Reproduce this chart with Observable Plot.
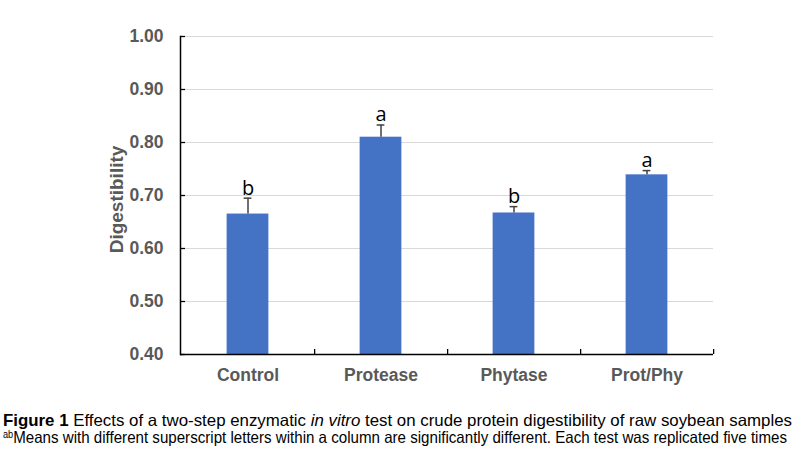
<!DOCTYPE html>
<html>
<head>
<meta charset="utf-8">
<script src="https://cdn.jsdelivr.net/npm/d3@7"></script>
<script src="https://cdn.jsdelivr.net/npm/@observablehq/plot@0.6"></script>
<style>
  html, body { margin: 0; padding: 0; background: #fff; overflow: hidden; }
  #chart svg { display: block; }
  #caption { font-family: "Liberation Sans Narrow", "Arial Narrow", "Liberation Sans", Arial, sans-serif; font-size: 16.5px; line-height: 17px; color: #000; padding: 12px 0 0 3px; white-space: nowrap; width: 2000px; }
  #caption .line { display: inline-block; width: max-content; transform-origin: 0 50%; }
  #caption sup { font-size: 10px; vertical-align: 5px; line-height: 0; }
</style>
</head>
<body>
<div id="chart"></div>
<div id="caption"><span class="line" data-w="789"><b>Figure 1</b> Effects of a two-step enzymatic <i>in vitro</i> test on crude protein digestibility of raw soybean samples</span><br><span class="line" data-w="784"><sup>ab</sup>Means with different superscript letters within a column are significantly different. Each test was replicated five times</span></div>
<script>
const categories = ["Control", "Protease", "Phytase", "Prot/Phy"];
const means = [0.665, 0.810, 0.667, 0.739];
const errors = [0.030, 0.023, 0.012, 0.008];
const letters = ["b", "a", "b", "a"];
const yTicks = [0.40, 0.50, 0.60, 0.70, 0.80, 0.90, 1.00];
const yMin = 0.40, yMax = 1.00;

const data = categories.map((c, i) => ({cat: c, mean: means[i], top: means[i] + errors[i], letter: letters[i]}));

const W = 796, H = 400;
const mL = 180, mR = 83, mT = 36, mB = 46;
const step = (W - mL - mR) / categories.length;
const barW = 42;
const capW = 8;
const gray = "#595959";
const font = "Liberation Sans, Arial, sans-serif";

const plot = Plot.plot({
  width: W, height: H,
  marginLeft: mL, marginRight: mR, marginTop: mT, marginBottom: mB,
  style: {fontFamily: font, background: "#fff"},
  x: {domain: categories, padding: 0},
  y: {domain: [yMin, yMax], ticks: yTicks},
  marks: [
    Plot.gridY(yTicks.filter(t => t > yMin), {stroke: "#d9d9d9", strokeOpacity: 1, strokeWidth: 1}),
    Plot.barY(data, {x: "cat", y1: yMin, y2: "mean", fill: "#4472c4", insetLeft: (step - barW) / 2, insetRight: (step - barW) / 2}),
    Plot.ruleX(data, {x: "cat", y1: "mean", y2: "top", stroke: "#404040", strokeWidth: 1.5}),
    Plot.tickY(data, {x: "cat", y: "top", stroke: "#404040", strokeWidth: 1.5, insetLeft: (step - capW) / 2, insetRight: (step - capW) / 2}),
    Plot.text(data, {x: "cat", y: "top", text: "letter", fontSize: 20, fill: "#000", lineAnchor: "middle", dy: -10, fontFamily: "Open Sans, Liberation Sans, sans-serif"}),
    Plot.axisY(yTicks, {anchor: "left", tickSize: 0, tickPadding: 17, fontSize: 17.5, fontWeight: "bold", fill: gray, tickFormat: d => d.toFixed(2), label: null}),
    Plot.axisY(yTicks, {anchor: "left", tickSize: 5, dx: 5, text: null, stroke: "#000", strokeWidth: 1.3, label: null}),
    Plot.axisX({anchor: "bottom", tickSize: 0, tickPadding: 14.5, fontSize: 17.5, fontWeight: "bold", fill: gray, label: null}),
    Plot.axisX({anchor: "bottom", tickSize: 5, dy: -5, dx: step / 2, text: null, stroke: "#000", strokeWidth: 1.3, label: null}),
    Plot.ruleY([yMin], {stroke: "#000", strokeWidth: 1.5}),
    Plot.frame({anchor: "left", stroke: "#000", strokeWidth: 1.5}),
    Plot.text(["Digestibility"], {frameAnchor: "left", dx: -64, dy: 4, rotate: -90, textAnchor: "middle", fontSize: 19, fontWeight: "bold", fill: gray, lineAnchor: "middle"})
  ]
});
document.getElementById("chart").appendChild(plot);

// fit each caption line to the reference line width
document.querySelectorAll("#caption .line").forEach(el => {
  const w = el.getBoundingClientRect().width;
  const t = +el.dataset.w;
  if (w > 0) el.style.transform = `scaleX(${t / w})`;
});
</script>
</body>
</html>
